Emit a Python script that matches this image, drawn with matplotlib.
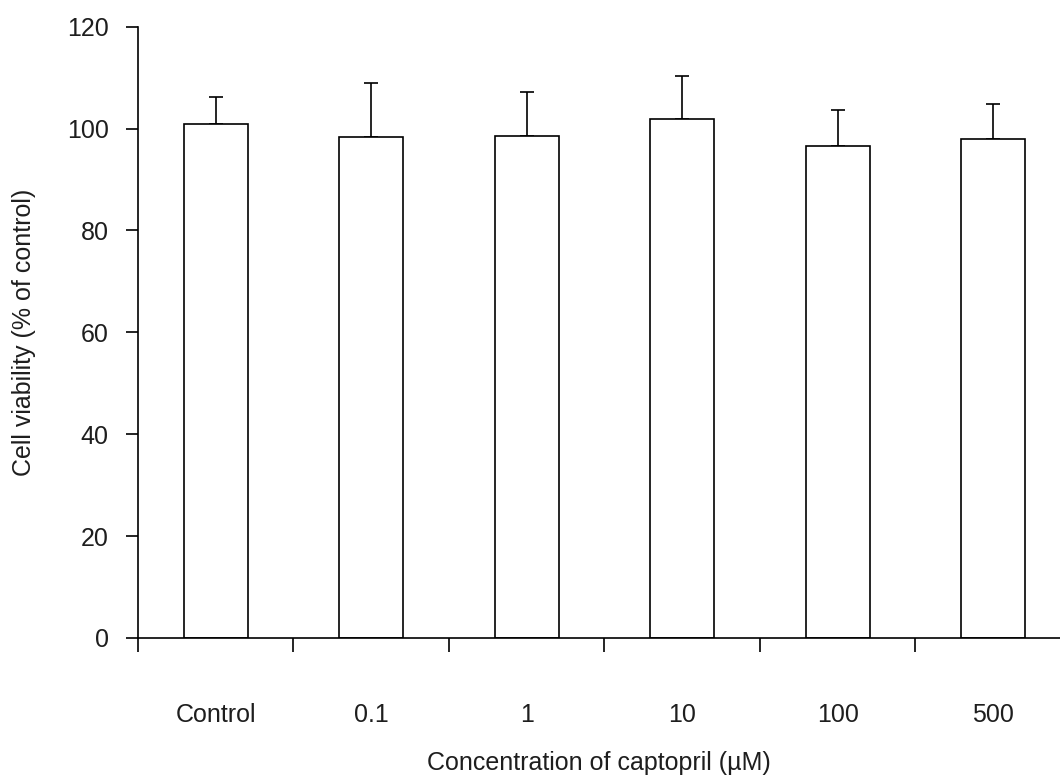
import numpy as np
import matplotlib
matplotlib.use("Agg")
import matplotlib.pyplot as plt

plt.rcParams['font.family'] = ['Liberation Sans', 'DejaVu Sans']
txtcol = '#1e1e1e'

# data
groups = ['Control', '0.1', '1', '10', '100', '500']
viability = [100.8, 98.4, 98.6, 101.9, 96.6, 97.9]
sem = [5.3, 10.6, 8.6, 8.5, 7.0, 6.9]

ftsize = 18
lw = 1.2

fig = plt.figure(figsize=(10.6, 7.78), dpi=100)
ax = fig.add_axes([0.1302, 0.18, 0.8698, 0.7857])

x = np.arange(len(groups)) + 0.5
ax.bar(x, viability, width=0.41, color='white', edgecolor='black', linewidth=lw, zorder=2)
ax.errorbar(x, viability, yerr=[np.zeros(len(sem)), sem], fmt='none', ecolor='black',
            elinewidth=lw, capsize=5, capthick=lw, zorder=1)

ax.set_xlim(0, 5.93)
ax.set_ylim(0, 120)
ax.set_yticks(np.arange(0, 121, 20))

# tick marks on group boundaries, labels at bar centres
ax.set_xticks(np.arange(0, len(groups)))
ax.set_xticklabels([])
ax.set_xticks(x, minor=True)
ax.set_xticklabels(groups, minor=True)
ax.tick_params(axis='x', which='major', direction='out', length=10, width=lw)
ax.tick_params(axis='x', which='minor', length=0, pad=47, labelsize=ftsize, labelcolor=txtcol)
ax.tick_params(axis='y', direction='out', length=9, width=lw, pad=12, labelsize=ftsize,
               labelcolor=txtcol)

for s in ['top', 'right']:
    ax.spines[s].set_visible(False)
for s in ['left', 'bottom']:
    ax.spines[s].set_linewidth(lw)

ax.set_xlabel('Concentration of captopril (µM)', fontsize=ftsize, labelpad=17, color=txtcol)
ax.set_ylabel('Cell viability (% of control)', fontsize=ftsize, labelpad=22, color=txtcol)

fig.savefig('out.png', dpi=100)
